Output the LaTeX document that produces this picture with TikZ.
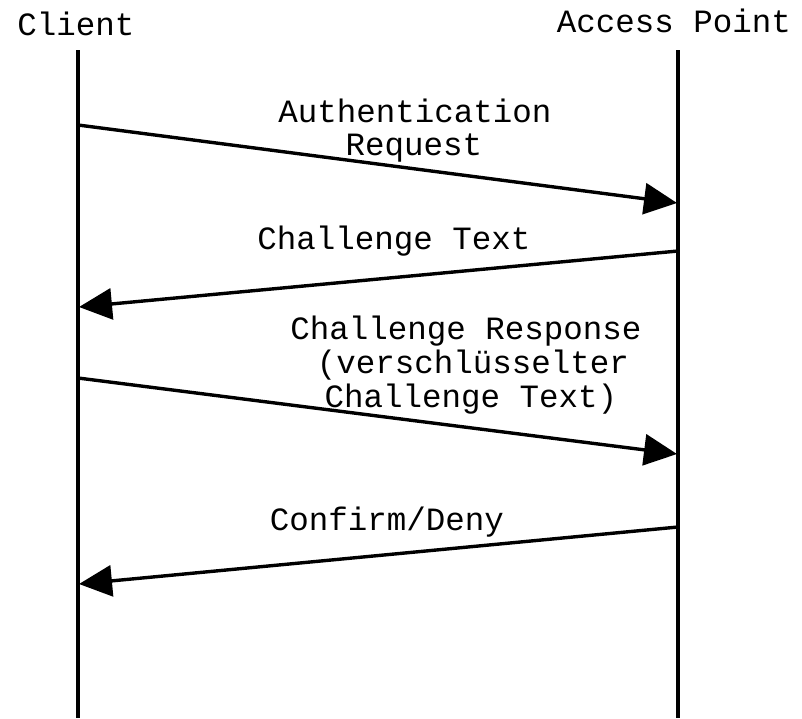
\documentclass[tikz,border=0pt]{standalone}
\usepackage{fontspec}
\setmainfont{Liberation Mono}
\usetikzlibrary{arrows.meta}
\begin{document}
\begin{tikzpicture}[x=0.5pt,y=-0.5pt,
  lifeline/.style={line width=1.7pt, line cap=butt},
  msg/.style={line width=1.7pt, -{Triangle[length=16.5pt,width=15.5pt]}},
  lbl/.style={anchor=base, inner sep=0pt, font=\fontsize{16.25pt}{17pt}\selectfont}]
\useasboundingbox (0,0) rectangle (802,718);
% headers
\node[lbl] (client) at (76,35) {Client};
\node[lbl] (ap) at (674,32) {Access Point};
% lifelines
\coordinate (ctop) at (78,50);
\coordinate (cbot) at (78,718);
\coordinate (atop) at (678,50);
\coordinate (abot) at (678,718);
\draw[lifeline] (ctop) -- (cbot);
\draw[lifeline] (atop) -- (abot);
% message end points
\coordinate (c1) at (78,125);
\coordinate (a1) at (677,203);
\coordinate (a2) at (678,251);
\coordinate (c2) at (79,307);
\coordinate (c3) at (78,378);
\coordinate (a3) at (677,454);
\coordinate (a4) at (678,527);
\coordinate (c4) at (79,584);
\draw[msg] (c1) -- (a1);
\draw[msg] (a2) -- (c2);
\draw[msg] (c3) -- (a3);
\draw[msg] (a4) -- (c4);
% labels
\node[lbl] (m1a) at (415,122) {Authentication};
\node[lbl] (m1b) at (414,155) {Request};
\node[lbl] (m2) at (394,249) {Challenge Text};
\node[lbl] (m3a) at (466,339) {Challenge Response};
\node[lbl] (m3b) at (473,373) {(verschlüsselter};
\node[lbl] (m3c) at (471,407) {Challenge Text)};
\node[lbl] (m4) at (387,530) {Confirm/Deny};
\end{tikzpicture}
\end{document}
